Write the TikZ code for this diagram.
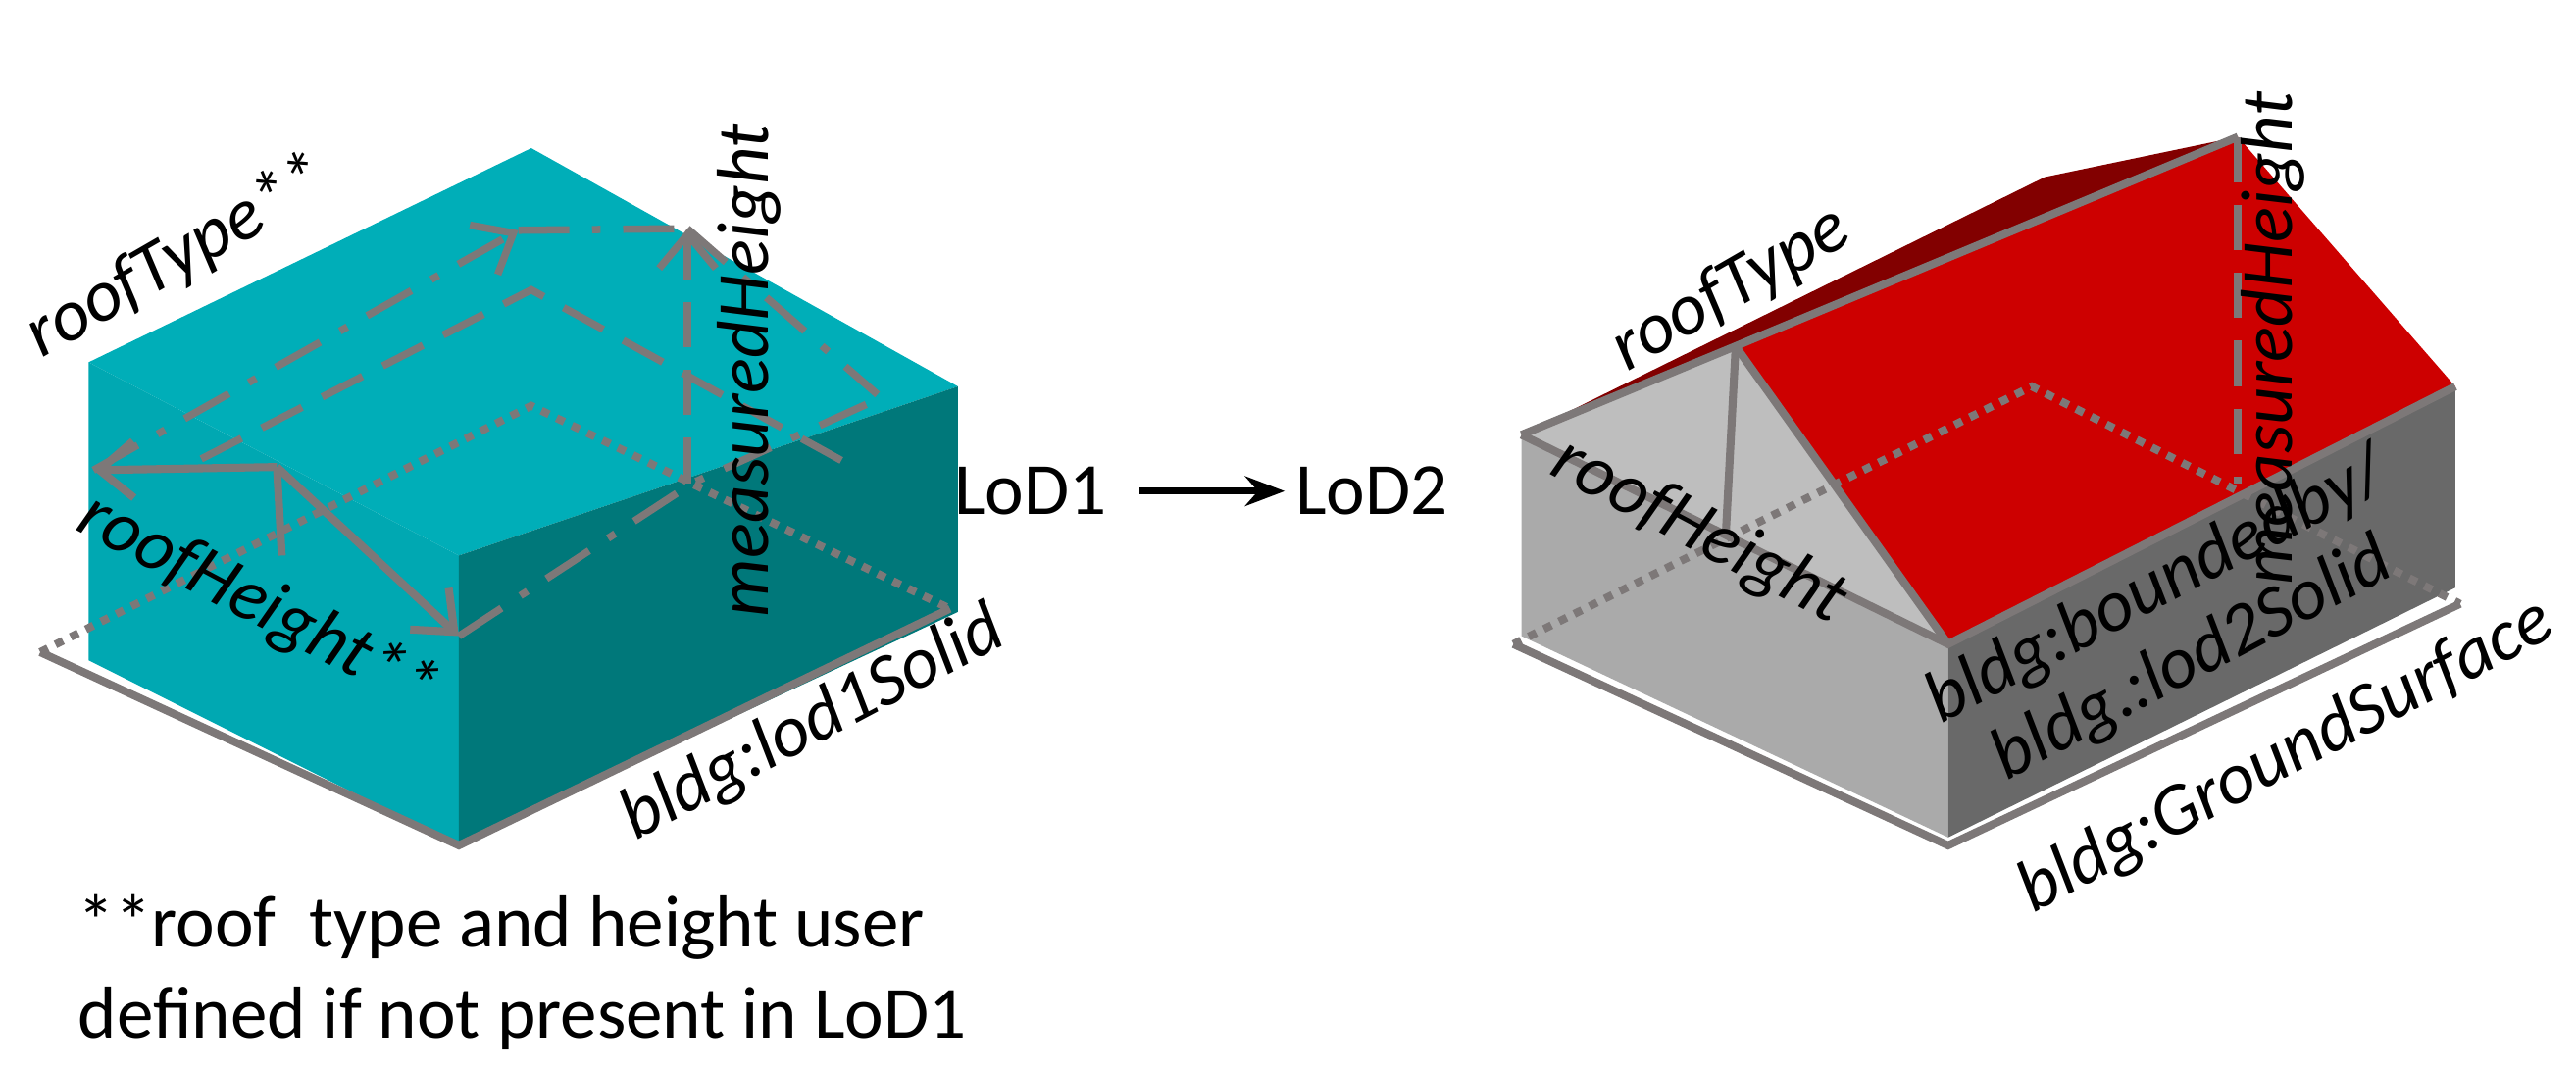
\documentclass[tikz,border=0pt]{standalone}
\usepackage{fontspec}
\setmainfont{Carlito}
\usetikzlibrary{arrows.meta,calc}
\definecolor{cyTop}{RGB}{0,174,184}
\definecolor{cyLeft}{RGB}{0,168,178}
\definecolor{cyRight}{RGB}{0,120,122}
\definecolor{rdDark}{RGB}{130,0,0}
\definecolor{rdFront}{RGB}{205,0,0}
\definecolor{gyLeft}{RGB}{170,170,170}
\definecolor{gyGable}{RGB}{190,190,190}
\definecolor{gyRight}{RGB}{105,105,105}
\definecolor{ln}{RGB}{125,120,120}
\begin{document}
\begin{tikzpicture}[x=0.01cm,y=-0.01cm,
  lbl/.style={font=\fontsize{13}{15}\selectfont\itshape,inner sep=0},
  txt/.style={font=\fontsize{13}{16}\selectfont,inner sep=0,align=left},
  gl/.style={draw=ln,line width=1.4pt},
  dl/.style={draw=ln,line width=1.4pt,dash pattern=on 1.5pt off 1.5pt},
  da/.style={draw=ln,line width=1.3pt,dash pattern=on 9pt off 4pt on 1.5pt off 4pt},
  dsh/.style={draw=ln,line width=1.3pt,dash pattern=on 8pt off 4pt},
  bar/.style={-{Straight Barb[length=6pt,width=10pt]}}]
\useasboundingbox (0,0) rectangle (1600,664.5);
% ---------- left box
\fill[cyTop] (55,225) -- (330,92) -- (595,240) -- (285,345) -- cycle;
\fill[cyLeft] (55,225) -- (285,345) -- (285,525) -- (55,410) -- cycle;
\fill[cyRight] (285,345) -- (595,240) -- (595,380) -- (285,525) -- cycle;
\draw[dl] (25,405) -- (330,252) -- (590,378);
\draw[gl] (25,405) -- (285,525) -- (590,378);
% roof lines
\draw[da,bar] (58,292) -- (322,143);
\draw[da] (322,143) -- (427,142);
\draw[da] (427,142) -- (545,245);
\draw[da] (285,395) -- (430,300) -- (545,248);
\draw[dsh] (125,285) -- (330,180) -- (530,290);
\draw[dsh,bar] (427,300) -- (427,142);
\draw[gl,bar] (172,290) -- (58,292);
\draw[gl] (172,290) -- (175,345);
\draw[gl,bar] (172,290) -- (285,395);
% labels left
\node[lbl,rotate=30] (rt1) at (110,160) {roofType**};
\node[lbl,rotate=90] (mh1) at (465,230) {measuredHeight};
\node[lbl,rotate=-28] (rh1) at (160,375) {roofHeight**};
\node[lbl,rotate=28] (ls1) at (505,450) {bldg:lod1Solid};
\node[txt,anchor=north west] (note) at (48,555) {**roof\ \ type and height user\\defined if not present in LoD1};
% arrow
\node[txt] (l1) at (640,305) {LoD1};
\node[txt] (l2) at (852,305) {LoD2};
\draw[line width=1.2pt,-{Stealth[length=7pt]}] ($(l1.east)+(20,0)$) -- ($(l2.west)+(-6,0)$);
% ---------- right house
\fill[gyLeft] (945,270) -- (1210,400) -- (1210,520) -- (945,395) -- cycle;
\fill[gyRight] (1210,400) -- (1525,240) -- (1525,365) -- (1210,520) -- cycle;
\fill[gyGable] (945,270) -- (1078,215) -- (1210,400) -- cycle;
\fill[rdDark] (945,270) -- (1270,110) -- (1390,85) -- (1078,215) -- cycle;
\fill[rdFront] (1078,215) -- (1390,85) -- (1525,240) -- (1210,400) -- cycle;
\draw[dl] (940,400) -- (1262,240) -- (1528,375);
\draw[gl] (940,400) -- (1210,525) -- (1528,375);
\draw[gl] (945,270) -- (1210,400) -- (1525,240);
\draw[gl] (945,270) -- (1078,215) -- (1390,85);
\draw[gl] (1078,215) -- (1210,400);
\draw[gl] (1078,215) -- (1072,330);
\draw[dsh] (1390,85) -- (1390,300);
% labels right
\node[lbl,rotate=30] (rt2) at (1075,180) {roofType};
\node[lbl,rotate=90] (mh2) at (1412,210) {measuredHeight};
\node[lbl,rotate=-28] (rh2) at (1055,330) {roofHeight};
\node[lbl,rotate=28] (bb) at (1340,365) {bldg:boundedby/};
\node[lbl,rotate=28] (ls2) at (1362,410) {bldg.:lod2Solid};
\node[lbl,rotate=28] (gs) at (1420,470) {bldg:GroundSurface};
\end{tikzpicture}
\end{document}
